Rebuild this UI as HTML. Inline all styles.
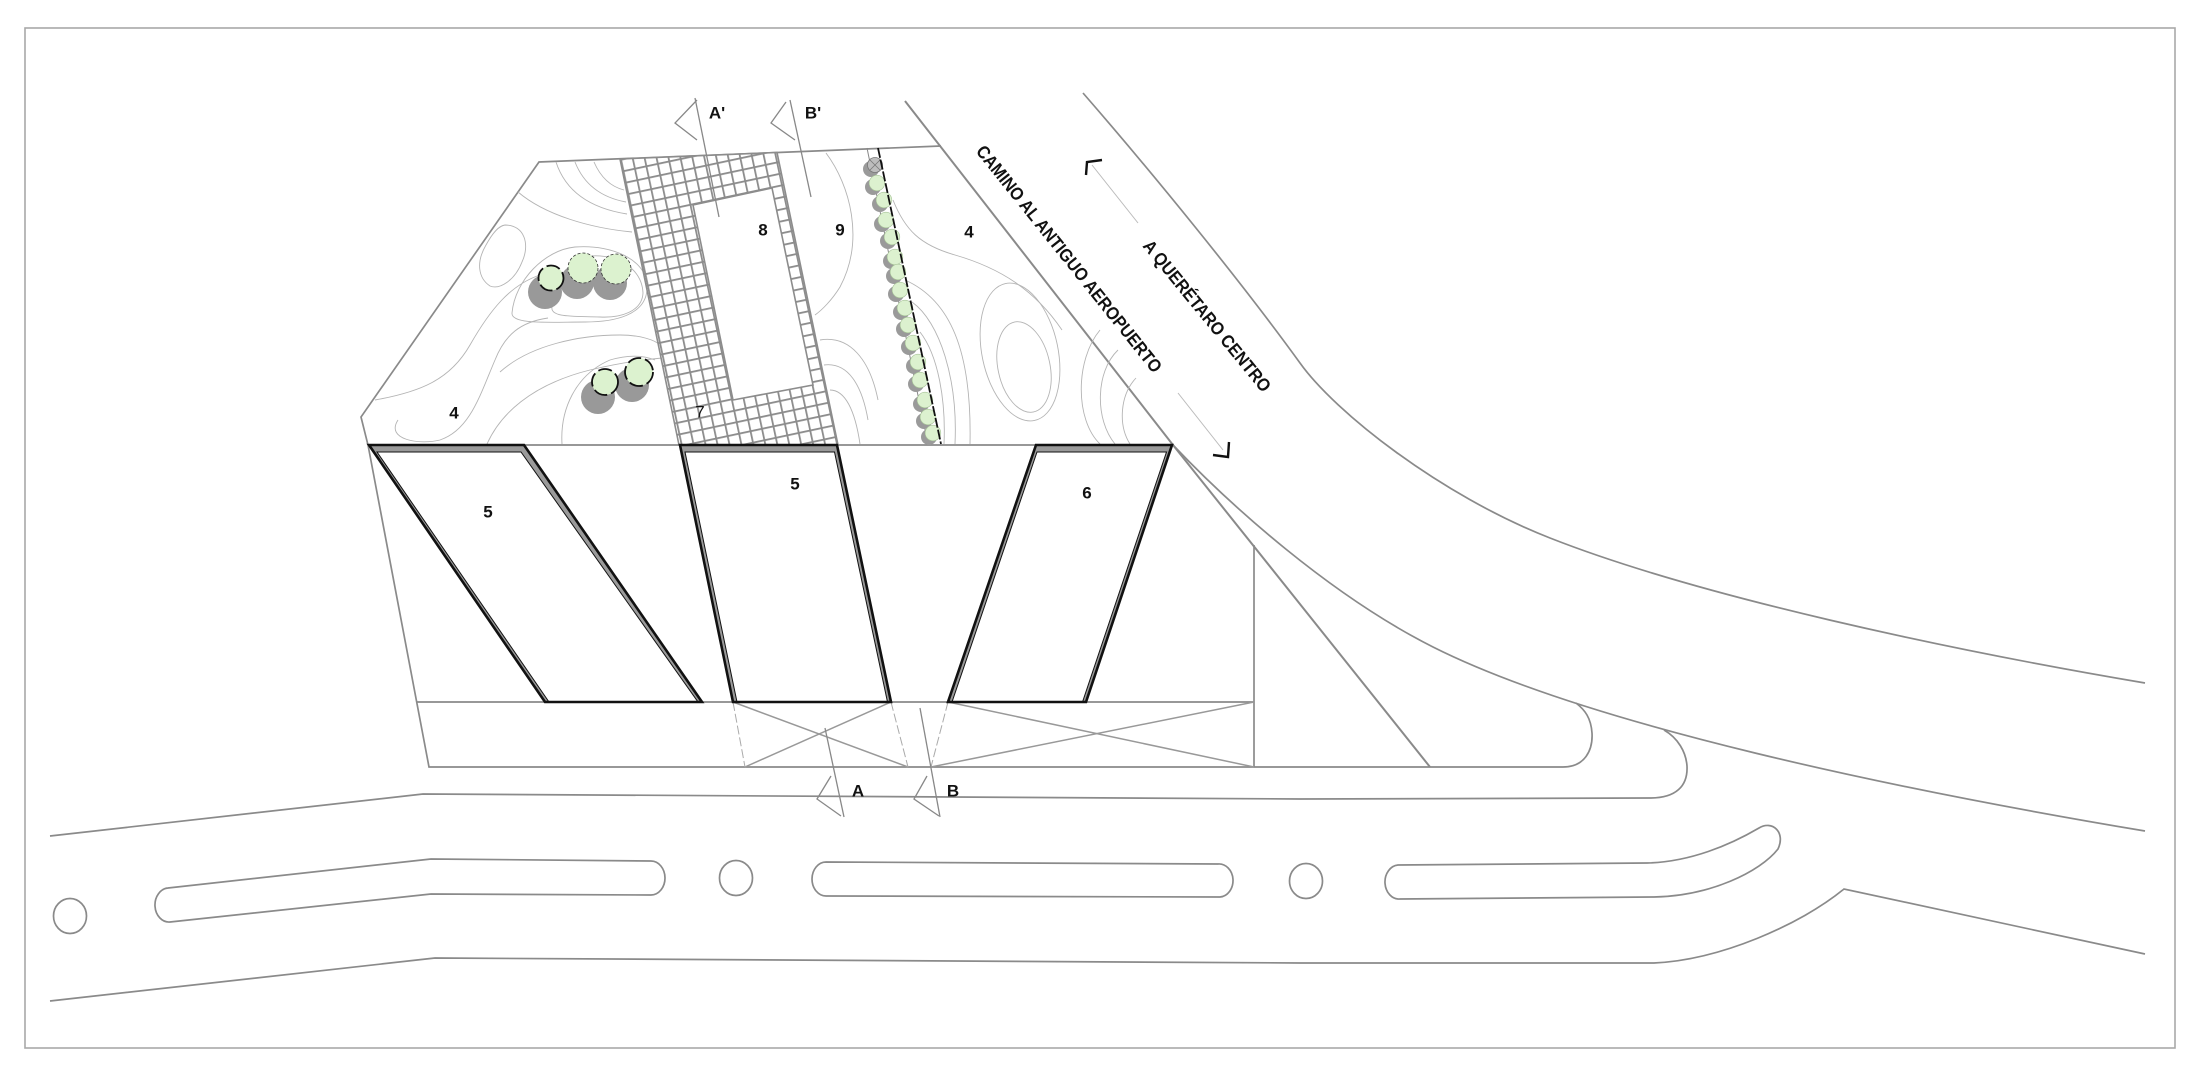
<!DOCTYPE html>
<html><head><meta charset="utf-8">
<style>
html,body{margin:0;padding:0;background:#fff}
svg{display:block}
text{font-family:"Liberation Sans",sans-serif;fill:#111}
</style></head>
<body>
<svg width="2200" height="1084" viewBox="0 0 2200 1084" xmlns="http://www.w3.org/2000/svg">
<defs>
<pattern id="grid" width="11.7" height="11.7" patternUnits="userSpaceOnUse" patternTransform="translate(620,159) rotate(-12)">
<rect x="0" y="0" width="11.7" height="11.7" fill="#fff"/>
<path d="M0.9,0 V11.7 M0,0.9 H11.7" stroke="#8c8c8c" stroke-width="1.8" fill="none"/>
</pattern>
</defs>

<rect x="0" y="0" width="2200" height="1084" fill="#fff"/>
<!-- frame -->
<rect x="25" y="28" width="2150" height="1020" fill="none" stroke="#a8a8a8" stroke-width="1.6"/>

<!-- roads -->
<g fill="none" stroke="#8a8a8a" stroke-width="1.7">
<path d="M50,836 L423,794 L1300,799 L1650,798 C1676,798 1688,786 1687,766 C1686,752 1678,738 1664,730"/>
<path d="M50,1001 L435,958 L1300,963 L1654,963 C1720,960 1800,925 1844,889 L2145,954"/>
<path d="M1173,445 C1230,505 1330,595 1433,647 C1590,726 1900,790 2145,831"/>
<path d="M1083,93 C1150,170 1240,280 1300,363 C1335,412 1440,495 1550,538 C1700,597 1950,650 2145,683"/>
<path d="M905,101 L1173,445 L1430,767" stroke-width="2"/>
<path d="M1563,767 C1585,767 1593,750 1592,733 C1591,718 1585,710 1576,703"/>
<!-- medians -->
<ellipse cx="70" cy="916" rx="16.5" ry="17.5"/>
<path d="M168,888 L431,859 L651,861 A14,17 0 0 1 651,895 L431,894 L170,922 A14,17 0 0 1 168,888 Z"/>
<ellipse cx="736" cy="878" rx="16.5" ry="17.5"/>
<path d="M826,862 L1218,864 A14,16.5 0 0 1 1220,897 L826,896 A14,17 0 0 1 826,862 Z"/>
<ellipse cx="1306" cy="881" rx="16.5" ry="17.5"/>
<path d="M1398,865 L1647,863 C1690,862 1730,845 1759,828 C1772,820 1786,832 1778,849 C1760,872 1710,896 1654,897 L1400,899 A14,17 0 0 1 1398,865 Z"/>
</g>

<!-- site outline -->
<g fill="none" stroke="#8a8a8a" stroke-width="1.7">
<path d="M941,146 L539,162 L361,417 L368,445 L429,767 L1563,767"/>
<line x1="368" y1="445" x2="1173" y2="445"/>
<line x1="416" y1="702" x2="1254" y2="702"/>
<line x1="1254" y1="545" x2="1254" y2="767"/>
</g>
<!-- crosses -->
<g fill="none" stroke="#999" stroke-width="1.5">
<line x1="733" y1="702" x2="908" y2="767"/>
<line x1="891" y1="702" x2="745" y2="767"/>
<line x1="948" y1="702" x2="1254" y2="767"/>
<line x1="931" y1="767" x2="1254" y2="702"/>
</g>
<g fill="none" stroke="#aaa" stroke-width="1" stroke-dasharray="9,3">
<line x1="733" y1="702" x2="745" y2="767"/>
<line x1="891" y1="702" x2="908" y2="767"/>
<line x1="948" y1="702" x2="931" y2="767"/>
</g>

<!-- contours -->
<g fill="none" stroke="#b4b4b4" stroke-width="0.9">
<path d="M556,162 Q570,205 627,214"/>
<path d="M575,162 Q588,195 626,202"/>
<path d="M594,162 Q604,185 624,190"/>
<path d="M518,192 C545,215 590,228 632,232"/>
<path d="M505,225 C525,225 530,245 522,262 C515,280 500,290 490,286 C478,278 476,262 486,245 C492,234 498,226 505,225 Z"/>
<path d="M512,313 C515,280 545,250 575,247 C615,244 650,262 647,290 C645,315 615,322 585,322 C550,322 511,325 512,313 Z"/>
<path d="M552,307 C560,275 575,258 590,256 C620,254 642,270 643,293 C642,312 620,318 600,317 C575,316 550,318 552,307 Z"/>
<path d="M375,400 C420,392 450,380 470,345 C490,310 510,285 540,275"/>
<path d="M398,420 C385,440 420,445 440,440 C470,430 480,395 495,360 C505,335 520,322 548,318"/>
<path d="M487,444 C500,415 530,385 590,370 C615,364 640,360 662,358"/>
<path d="M500,372 C530,345 580,335 620,335 C640,335 655,340 660,345"/>
<path d="M562,444 C560,410 575,375 610,360 C630,354 645,356 655,360"/>
<path d="M826,153 C850,185 865,240 840,287 C832,300 822,310 815,315"/>
<path d="M820,340 C850,335 870,360 878,400"/>
<path d="M824,365 C848,362 862,385 868,420"/>
<path d="M830,390 C845,390 855,410 860,444"/>
<path d="M893,200 C905,230 920,245 955,255 C1000,268 1035,290 1062,330"/>
<ellipse cx="1020" cy="352" rx="38" ry="70" transform="rotate(-12 1020 352)"/>
<ellipse cx="1024" cy="367" rx="26" ry="46" transform="rotate(-12 1024 367)"/>
<path d="M905,280 C950,300 972,350 970,444"/>
<path d="M912,302 C940,322 958,380 955,444"/>
<path d="M920,332 C938,355 946,400 944,444"/>
<path d="M1100,330 C1075,360 1075,420 1100,444"/>
<path d="M1118,350 C1095,372 1095,420 1115,444"/>
<path d="M1136,378 C1120,395 1118,425 1130,444"/>
</g>

<!-- grid paving -->
<path d="M620,159 L777,152.5 L838,445 L679,445 Z M693,205 L772,188 L813,385 L733,400 Z" fill="url(#grid)" fill-rule="evenodd" stroke="#8c8c8c" stroke-width="1.6"/>

<!-- tree line -->
<line x1="867" y1="148" x2="928" y2="444" stroke="#888" stroke-width="1"/>
<g fill="#9a9a9a">
<circle cx="871" cy="169" r="8"/>
<circle cx="873" cy="187" r="8"/><circle cx="880" cy="204" r="8"/><circle cx="882" cy="224" r="8"/>
<circle cx="888" cy="241" r="8"/><circle cx="891" cy="261" r="8"/><circle cx="894" cy="276" r="8"/>
<circle cx="896" cy="294" r="8"/><circle cx="901" cy="312" r="8"/><circle cx="904" cy="329" r="8"/>
<circle cx="909" cy="347" r="8"/><circle cx="914" cy="366" r="8"/><circle cx="916" cy="384" r="8"/>
<circle cx="921" cy="404" r="8"/><circle cx="924" cy="421" r="8"/><circle cx="929" cy="437" r="8"/>
</g>
<g fill="#dcf1cf" stroke="#a9c49a" stroke-width="0.6">
<circle cx="877" cy="183" r="7.8"/><circle cx="884" cy="200" r="7.8"/><circle cx="886" cy="220" r="7.8"/>
<circle cx="892" cy="237" r="7.8"/><circle cx="895" cy="257" r="7.8"/><circle cx="898" cy="272" r="7.8"/>
<circle cx="900" cy="290" r="7.8"/><circle cx="905" cy="308" r="7.8"/><circle cx="908" cy="325" r="7.8"/>
<circle cx="913" cy="343" r="7.8"/><circle cx="918" cy="362" r="7.8"/><circle cx="920" cy="380" r="7.8"/>
<circle cx="925" cy="400" r="7.8"/><circle cx="928" cy="417" r="7.8"/><circle cx="933" cy="433" r="7.8"/>
</g>
<g stroke="#777" stroke-width="0.8" fill="none">
<circle cx="875" cy="165" r="7.5" fill="#bdbdbd"/>
<line x1="870" y1="160" x2="880" y2="170"/><line x1="880" y1="160" x2="870" y2="170"/>
</g>
<line x1="878" y1="148" x2="941" y2="444" stroke="#111" stroke-width="1.8" stroke-dasharray="10,2"/>

<!-- tree groups -->
<g fill="#999">
<circle cx="545" cy="292" r="17"/><circle cx="577" cy="282" r="17"/><circle cx="610" cy="283" r="17"/>
<circle cx="598" cy="397" r="17"/><circle cx="632" cy="385" r="17"/>
</g>
<g fill="#dcf2cf">
<circle cx="551" cy="278" r="12.5" stroke="#111" stroke-width="1.8" stroke-dasharray="14,4"/>
<circle cx="583" cy="268" r="15" stroke="#333" stroke-width="0.8" stroke-dasharray="3,2"/>
<circle cx="616" cy="269" r="15" stroke="#333" stroke-width="0.8" stroke-dasharray="3,2"/>
<circle cx="605" cy="382" r="13" stroke="#111" stroke-width="1.8" stroke-dasharray="14,4"/>
<circle cx="639" cy="372" r="14" stroke="#111" stroke-width="1.8" stroke-dasharray="14,4"/>
</g>

<!-- buildings -->
<g>
<polygon points="369,445 524,445 702,702 545,702" fill="#9a9a9a"/>
<polygon points="377,452 521,452 698,702 549,702" fill="#fff" stroke="#111" stroke-width="1"/>
<polygon points="369,445 524,445 702,702 545,702" fill="none" stroke="#111" stroke-width="2.6"/>

<polygon points="680,445 837,445 891,702 733,702" fill="#9a9a9a"/>
<polygon points="685,452 834.5,452 887.5,702 737,702" fill="#fff" stroke="#111" stroke-width="1"/>
<polygon points="680,445 837,445 891,702 733,702" fill="none" stroke="#111" stroke-width="2.6"/>

<polygon points="1036,445 1172,445 1086,702 948,702" fill="#9a9a9a"/>
<polygon points="1037,452 1166.5,452 1082.5,702 952,702" fill="#fff" stroke="#111" stroke-width="1"/>
<polygon points="1036,445 1172,445 1086,702 948,702" fill="none" stroke="#111" stroke-width="2.6"/>
</g>

<!-- section marks -->
<g fill="none" stroke="#888" stroke-width="1.3">
<line x1="695" y1="98" x2="719" y2="217"/>
<polyline points="697,100 675,123 697,140"/>
<line x1="790" y1="100" x2="811" y2="197"/>
<polyline points="786,102 771,123 795,140"/>
<line x1="825" y1="728" x2="844" y2="817"/>
<polyline points="831,776 817,799 841,816"/>
<line x1="920" y1="708" x2="940" y2="817"/>
<polyline points="927,776 914,799 939,816"/>
</g>

<!-- direction arrows -->
<g fill="none" stroke="#bbb" stroke-width="1">
<line x1="1092" y1="165" x2="1138" y2="223"/>
<line x1="1178" y1="393" x2="1223" y2="450"/>
</g>
<g fill="none" stroke="#111" stroke-width="2.4">
<polyline points="1086,175 1087,162 1102,160"/>
<polyline points="1213,455 1228,457 1229,442"/>
</g>

<!-- labels -->
<g font-size="17" text-anchor="middle" dominant-baseline="central" font-weight="bold">
<text x="717" y="113">A'</text>
<text x="813" y="113">B'</text>
<text x="763" y="230">8</text>
<text x="840" y="230">9</text>
<text x="969" y="232">4</text>
<text x="454" y="413">4</text>
<text x="700" y="412" font-weight="normal">7</text>
<text x="488" y="512">5</text>
<text x="795" y="484">5</text>
<text x="1087" y="493">6</text>
<text x="858" y="791">A</text>
<text x="953" y="791">B</text>
</g>
<text transform="translate(1069,259) rotate(51.3)" text-anchor="middle" dominant-baseline="central" font-size="18" font-weight="bold" textLength="285" lengthAdjust="spacingAndGlyphs">CAMINO AL ANTIGUO AEROPUERTO</text>
<text transform="translate(1207,316) rotate(50.7)" text-anchor="middle" dominant-baseline="central" font-size="18" font-weight="bold" textLength="190" lengthAdjust="spacingAndGlyphs">A QUERÉTARO CENTRO</text>
</svg>
</body></html>
